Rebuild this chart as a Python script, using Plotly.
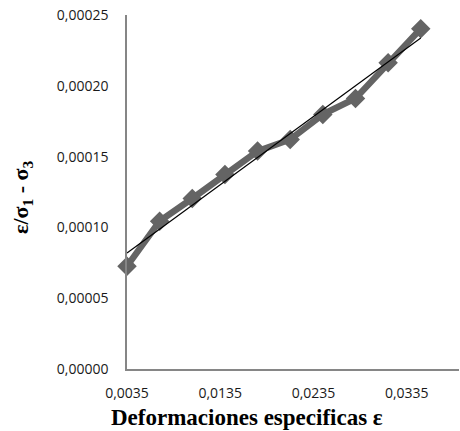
import numpy as np
import plotly.graph_objects as go

deformaciones = [0.0035, 0.0070, 0.0105, 0.0140, 0.0175, 0.0210, 0.0245, 0.0280, 0.0315, 0.0350]
relacion = [0.0000726, 0.0001044, 0.0001204, 0.0001374, 0.0001539, 0.0001621,
            0.0001798, 0.0001911, 0.0002163, 0.0002403]

x_tickvals = [0.0035, 0.0135, 0.0235, 0.0335]
x_ticktext = ["0,0035", "0,0135", "0,0235", "0,0335"]
y_tickvals = [0, 0.00005, 0.00010, 0.00015, 0.00020, 0.00025]
y_ticktext = ["0,00000", "0,00005", "0,00010", "0,00015", "0,00020", "0,00025"]

slope, intercept = np.polyfit(deformaciones, relacion, 1)
trend_x = [deformaciones[0], deformaciones[-1]]
trend_y = [slope * v + intercept for v in trend_x]

fig = go.Figure()
fig.add_trace(go.Scatter(
    x=deformaciones, y=relacion, mode="lines+markers",
    line=dict(color="#646464", width=6.5),
    marker=dict(symbol="diamond", size=15, color="#646464"),
    showlegend=False, cliponaxis=False,
))
fig.add_trace(go.Scatter(
    x=trend_x, y=trend_y, mode="lines",
    line=dict(color="black", width=1.2),
    showlegend=False, cliponaxis=False,
))

L, R, T, B = 127, 1, 15, 62
W, H = 460, 431
tick_font = dict(family="Open Sans, Liberation Sans, sans-serif", size=14, color="#1a1a1a")
fig.update_layout(
    width=W, height=H,
    margin=dict(l=L, r=R, t=T, b=B),
    plot_bgcolor="white", paper_bgcolor="white",
    xaxis=dict(range=[0.0035, 0.0391], tickvals=x_tickvals, ticktext=x_ticktext,
               showgrid=False, zeroline=False, showline=True, linecolor="#868686",
               linewidth=1.5, ticks="", tickfont=tick_font, ticklabelstandoff=10),
    yaxis=dict(range=[0, 0.00025], tickvals=y_tickvals, ticktext=y_ticktext,
               showgrid=False, zeroline=False, showline=True, linecolor="#868686",
               linewidth=1.5, ticks="", tickfont=tick_font, ticklabelstandoff=14),
)

pw = W - L - R
ph = H - T - B


def px_to_paper(px, py):
    return (px - L) / pw, (H - B - py) / ph


ax, ay = px_to_paper(247, 417)
fig.add_annotation(text="<b>Deformaciones especificas ε</b>", x=ax, y=ay,
                   xref="paper", yref="paper", showarrow=False,
                   xanchor="center", yanchor="middle",
                   font=dict(family="Liberation Serif, serif", size=23, color="black"))
bx, by = px_to_paper(22, 198)
fig.add_annotation(text="<b>ε/σ<sub>1</sub> - σ<sub>3</sub></b>", x=bx, y=by,
                   xref="paper", yref="paper", showarrow=False, textangle=-90,
                   xanchor="center", yanchor="middle",
                   font=dict(family="Liberation Serif, serif", size=22, color="black"))

fig.write_html("out.html", config={"displayModeBar": False},
               post_script="document.body.style.margin='0';")
